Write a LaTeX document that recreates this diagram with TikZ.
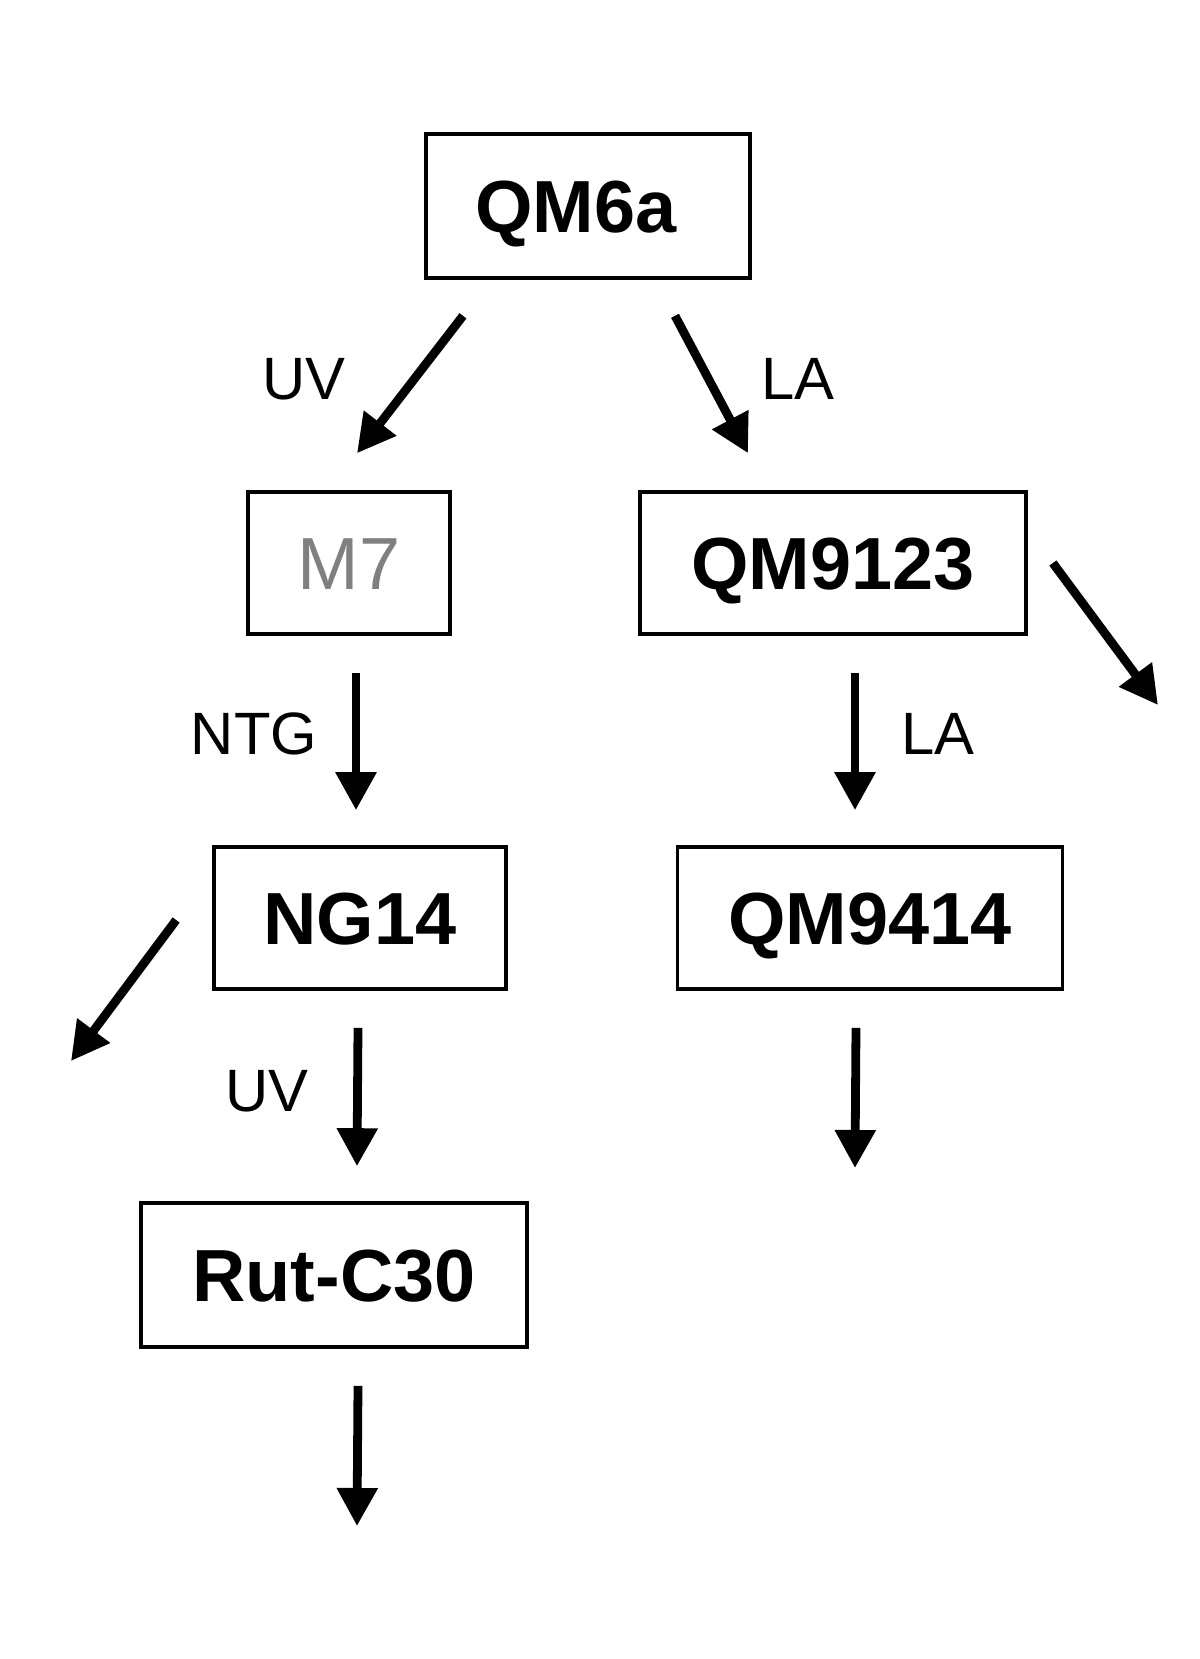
\documentclass[tikz,border=0pt]{standalone}
\usepackage{fontspec}
\setmainfont{Liberation Sans}
\usetikzlibrary{arrows.meta,calc}
\definecolor{straingray}{RGB}{128,128,128}
\tikzset{
  strain/.style={draw, line width=1pt, inner sep=0pt, minimum height=1.42cm,
    text height=15pt, text depth=0pt,
    font=\fontsize{21}{25}\selectfont\bfseries},
  arr/.style={line width=2.5pt, -{Triangle[length=3.8mm,width=3.9mm]}},
  lbl/.style={font=\fontsize{17}{20}\selectfont, text height=12pt, text depth=0pt}
}
\begin{document}
\begin{tikzpicture}[x=0.01cm, y=-0.01cm]
\useasboundingbox (0,0) rectangle (1200,1659);
% strains
\node[strain, minimum width=3.24cm, minimum height=1.44cm] (qm6a) at (588,206) {QM6a\kern0.24cm};
\node[strain, minimum width=2.02cm, text=straingray, font=\fontsize{21}{25}\selectfont] (m7) at (349,563) {M7};
\node[strain, minimum width=3.86cm] (qm9123) at (833,563) {QM9123};
\node[strain, minimum width=2.92cm] (ng14) at (360,918) {NG14};
\node[strain, minimum width=3.85cm] (qm9414) at (870,918) {QM9414};
\node[strain, minimum width=3.86cm, minimum height=1.44cm] (rut) at (334,1275) {Rut-C30};

% free ends
\coordinate (side1) at (1158,705);
\coordinate (side2) at (71,1061);
\coordinate (down1) at (855,1168);
\coordinate (down2) at (357,1526);

% mutations
\draw[arr] ($(qm6a.south)+(-125,36)$) -- ($(m7.north)+(8,-37)$);
\draw[arr] ($(qm6a.south)+(87,36)$) -- ($(qm9123.north)+(-85,-37)$);
\draw[arr] ($(m7.south)+(7,37)$) -- ($(ng14.north)+(-4,-35)$);
\draw[arr] ($(qm9123.south)+(22,37)$) -- ($(qm9414.north)+(-15,-35)$);
\draw[arr] ($(ng14.south)+(-2,37)$) -- ($(rut.north)+(23,-35)$);
\draw[arr] ($(qm9123.east)+(25,0)$) -- (side1);
\draw[arr] ($(ng14.west)+(-36,2)$) -- (side2);
\draw[arr] ($(qm9414.south)+(-14,37)$) -- (down1);
\draw[arr] ($(rut.south)+(24,37)$) -- (down2);

% treatments
\node[lbl] (uv1) at (304,378) {UV};
\node[lbl] (la1) at (798,378) {LA};
\node[lbl] (ntg) at (254,733) {NTG};
\node[lbl] (la2) at (938,733) {LA};
\node[lbl] (uv2) at (267,1090) {UV};
\end{tikzpicture}
\end{document}
